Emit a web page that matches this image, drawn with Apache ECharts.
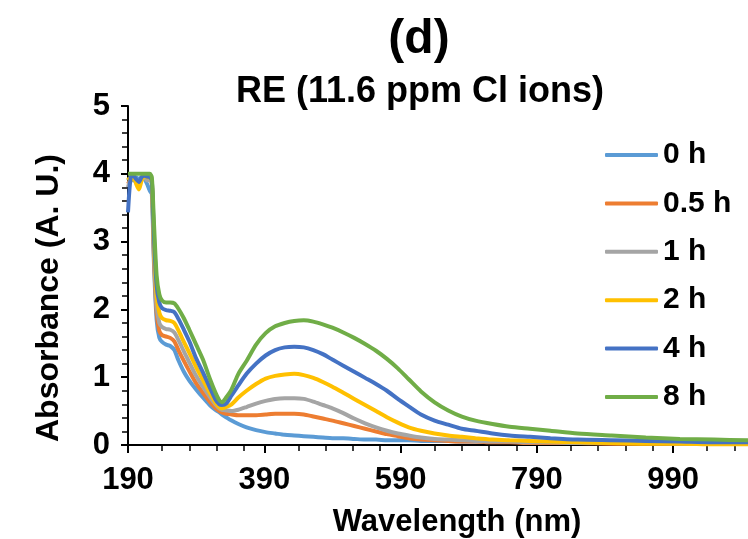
<!DOCTYPE html>
<html>
<head>
<meta charset="utf-8">
<script src="https://cdn.jsdelivr.net/npm/echarts@6/dist/echarts.min.js"></script>
<style>
  html, body { margin: 0; padding: 0; background: #fff; }
  #chart { width: 748px; height: 539px; }
</style>
</head>
<body>
<div id="chart"></div>
<script>
// UV-Vis absorbance spectra of RE sample at different exposure times
const wavelengths = [190, 194, 198, 202, 206, 210, 214, 218, 222, 225, 228, 232, 236, 240, 246, 252, 258, 264, 272, 280, 290, 300, 310, 318, 324, 328, 334, 342, 352, 364, 378, 392, 406, 420, 434, 448, 462, 476, 490, 506, 522, 538, 554, 570, 586, 602, 620, 640, 660, 680, 700, 725, 750, 780, 810, 850, 900, 950, 1000, 1050, 1100];

const seriesNames = ['0 h', '0.5 h', '1 h', '2 h', '4 h', '8 h'];
const seriesColors = ['#5B9BD5', '#ED7D31', '#A5A5A5', '#FFC000', '#4472C4', '#70AD47'];

const abs0h = [3.90, 3.95, 3.90, 3.95, 3.92, 3.95, 3.93, 3.85, 3.75, 3.70, 2.70, 1.85, 1.58, 1.52, 1.48, 1.46, 1.40, 1.25, 1.08, 0.95, 0.82, 0.70, 0.59, 0.52, 0.48, 0.45, 0.41, 0.36, 0.31, 0.26, 0.22, 0.19, 0.17, 0.15, 0.14, 0.13, 0.12, 0.11, 0.10, 0.10, 0.09, 0.08, 0.08, 0.07, 0.07, 0.07, 0.06, 0.06, 0.06, 0.05, 0.05, 0.05, 0.05, 0.04, 0.04, 0.04, 0.04, 0.03, 0.03, 0.03, 0.03];
const abs05h = [3.85, 3.92, 3.95, 3.90, 3.85, 3.93, 3.96, 3.92, 3.93, 3.85, 2.80, 1.95, 1.68, 1.62, 1.60, 1.58, 1.53, 1.40, 1.24, 1.09, 0.91, 0.77, 0.64, 0.55, 0.50, 0.48, 0.46, 0.45, 0.44, 0.44, 0.44, 0.45, 0.46, 0.46, 0.46, 0.45, 0.42, 0.39, 0.36, 0.32, 0.28, 0.24, 0.20, 0.16, 0.13, 0.10, 0.08, 0.07, 0.06, 0.05, 0.05, 0.04, 0.04, 0.03, 0.03, 0.03, 0.02, 0.02, 0.02, 0.02, 0.02];
const abs1h = [3.80, 3.93, 3.96, 3.88, 3.82, 3.92, 3.95, 3.90, 3.92, 3.85, 2.90, 2.05, 1.80, 1.74, 1.71, 1.70, 1.66, 1.55, 1.38, 1.22, 1.02, 0.86, 0.71, 0.60, 0.54, 0.52, 0.51, 0.50, 0.52, 0.56, 0.61, 0.65, 0.68, 0.69, 0.69, 0.68, 0.64, 0.59, 0.54, 0.47, 0.39, 0.32, 0.26, 0.21, 0.17, 0.14, 0.11, 0.09, 0.08, 0.07, 0.06, 0.05, 0.05, 0.04, 0.04, 0.03, 0.03, 0.03, 0.02, 0.02, 0.02];
const abs2h = [3.95, 3.90, 3.97, 3.85, 3.77, 3.90, 3.97, 3.95, 3.95, 3.88, 3.00, 2.20, 1.95, 1.87, 1.84, 1.83, 1.80, 1.69, 1.52, 1.36, 1.15, 0.96, 0.77, 0.63, 0.56, 0.54, 0.56, 0.60, 0.70, 0.80, 0.90, 0.98, 1.02, 1.04, 1.05, 1.03, 0.99, 0.93, 0.86, 0.77, 0.68, 0.59, 0.50, 0.41, 0.33, 0.26, 0.21, 0.17, 0.14, 0.12, 0.10, 0.08, 0.07, 0.06, 0.05, 0.04, 0.03, 0.02, 0.02, 0.01, 0.01];
const abs4h = [3.43, 3.95, 3.97, 3.92, 3.88, 3.95, 3.97, 3.96, 3.95, 3.90, 3.10, 2.35, 2.10, 2.02, 1.99, 1.98, 1.96, 1.86, 1.70, 1.53, 1.28, 1.07, 0.85, 0.68, 0.60, 0.59, 0.61, 0.73, 0.88, 1.05, 1.20, 1.32, 1.40, 1.44, 1.45, 1.44, 1.40, 1.34, 1.26, 1.17, 1.08, 0.99, 0.90, 0.80, 0.68, 0.57, 0.45, 0.36, 0.30, 0.24, 0.21, 0.17, 0.14, 0.12, 0.10, 0.08, 0.07, 0.06, 0.05, 0.04, 0.04];
const abs8h = [4.00, 4.00, 4.00, 4.00, 4.00, 4.00, 4.00, 4.00, 4.00, 3.95, 3.30, 2.50, 2.22, 2.13, 2.10, 2.10, 2.09, 2.01, 1.87, 1.70, 1.48, 1.26, 0.98, 0.78, 0.66, 0.63, 0.70, 0.82, 1.05, 1.24, 1.48, 1.65, 1.75, 1.80, 1.83, 1.84, 1.82, 1.78, 1.73, 1.66, 1.58, 1.49, 1.39, 1.27, 1.13, 0.97, 0.79, 0.63, 0.51, 0.42, 0.36, 0.31, 0.27, 0.24, 0.21, 0.17, 0.14, 0.11, 0.09, 0.08, 0.07];

const xTickLabels = [190, 390, 590, 790, 990];

const absorbance = [abs0h, abs05h, abs1h, abs2h, abs4h, abs8h];

const FONT = '"Liberation Sans", Arial, sans-serif';

const chart = echarts.init(document.getElementById('chart'), null, { renderer: 'canvas' });

const series = seriesNames.map((name, i) => ({
  name: name,
  type: 'line',
  data: wavelengths.map((w, j) => [w, absorbance[i][j]]),
  showSymbol: false,
  symbol: 'none',
  smooth: 0.25,
  lineStyle: { color: seriesColors[i], width: 4 },
  itemStyle: { color: seriesColors[i] },
  z: 2 + i
}));

chart.setOption({
  animation: false,
  backgroundColor: '#fff',
  title: [
    {
      text: '(d)', left: 414, top: 11, textAlign: 'center',
      textStyle: { fontFamily: FONT, fontSize: 48, fontWeight: 'bold', color: '#000' }
    },
    {
      text: 'RE (11.6 ppm Cl ions)', left: 415, top: 69, textAlign: 'center',
      textStyle: { fontFamily: FONT, fontSize: 36, fontWeight: 'bold', color: '#000' }
    },
    {
      text: 'Wavelength (nm)', left: 452, top: 502, textAlign: 'center',
      textStyle: { fontFamily: FONT, fontSize: 31, fontWeight: 'bold', color: '#000' }
    }
  ],
  graphic: [
    {
      type: 'text',
      x: 49,
      y: 298,
      rotation: Math.PI / 2,
      style: {
        text: 'Absorbance (A. U.)',
        fontFamily: FONT, fontSize: 32, fontWeight: 'bold', fill: '#000',
        textAlign: 'center', textVerticalAlign: 'middle'
      }
    }
  ],
  legend: {
    orient: 'vertical',
    left: 600,
    top: 132,
    icon: 'roundRect',
    itemWidth: 53,
    itemHeight: 4,
    itemGap: 12.4,
    data: seriesNames,
    textStyle: { fontFamily: FONT, fontSize: 30, fontWeight: 'bold', color: '#000', lineHeight: 36 }
  },
  grid: { left: 128, right: -17, top: 106, bottom: 94, containLabel: false },
  xAxis: {
    type: 'value',
    min: 190,
    max: 1100,
    axisLine: { lineStyle: { color: '#000', width: 2 } },
    axisTick: { show: true, length: 8, lineStyle: { color: '#000', width: 2 }, customValues: xTickLabels },
    minorTick: { show: true, splitNumber: 5, length: 6, lineStyle: { color: '#000', width: 1.5 } },
    axisLabel: {
      customValues: xTickLabels, margin: 20,
      fontFamily: FONT, fontSize: 31, fontWeight: 'bold', color: '#000'
    },
    splitLine: { show: false }
  },
  yAxis: {
    type: 'value',
    min: 0,
    max: 5,
    interval: 1,
    axisLine: { show: true, lineStyle: { color: '#000', width: 2 } },
    axisTick: { show: true, length: 7, lineStyle: { color: '#000', width: 2 } },
    minorTick: { show: true, splitNumber: 5, length: 6, lineStyle: { color: '#000', width: 1.5 } },
    axisLabel: {
      margin: 18,
      fontFamily: FONT, fontSize: 31, fontWeight: 'bold', color: '#000'
    },
    splitLine: { show: false }
  },
  series: series
});
</script>
</body>
</html>
